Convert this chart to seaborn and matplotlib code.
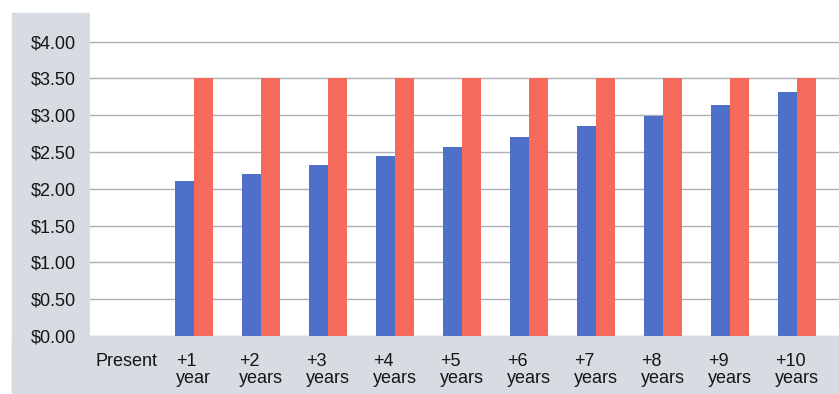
import matplotlib
matplotlib.use("Agg")
import matplotlib.pyplot as plt
import seaborn as sns
import pandas as pd
from matplotlib.patches import Rectangle

categories = ["Present", "+1\nyear", "+2\nyears", "+3\nyears", "+4\nyears", "+5\nyears",
              "+6\nyears", "+7\nyears", "+8\nyears", "+9\nyears", "+10\nyears"]
series_names = ["Series A", "Series B"]
blue_values = [0.0, 2.10, 2.20, 2.32, 2.44, 2.57, 2.71, 2.85, 2.99, 3.14, 3.31]
red_values = [0.0, 3.50, 3.50, 3.50, 3.50, 3.50, 3.50, 3.50, 3.50, 3.50, 3.50]
y_ticks = [0.0, 0.5, 1.0, 1.5, 2.0, 2.5, 3.0, 3.5, 4.0]
y_tick_labels = ["$0.00", "$0.50", "$1.00", "$1.50", "$2.00", "$2.50", "$3.00", "$3.50", "$4.00"]

df = pd.DataFrame({
    "cat": categories * 2,
    "series": [series_names[0]] * len(categories) + [series_names[1]] * len(categories),
    "value": blue_values + red_values,
})

sns.set_theme(style="white")
plt.rcParams["font.family"] = ["Liberation Sans", "DejaVu Sans"]

W, H = 839, 394
fig = plt.figure(figsize=(W / 100, H / 100), dpi=100, facecolor="white")

gray = "#d6dce2"
fig.patches.append(Rectangle((12 / W, 0), (90 - 12) / W, 1 - 13 / H,
                             transform=fig.transFigure, color=gray, zorder=-10))
fig.patches.append(Rectangle((12 / W, 0), 1 - 12 / W, 1 - 336 / H,
                             transform=fig.transFigure, color=gray, zorder=-10))

ax = fig.add_axes([90 / W, 1 - 336 / H, 1 - 90 / W, (336 - 13) / H])
ax.set_facecolor("white")
ax.set_zorder(5)

sns.barplot(data=df, x="cat", y="value", hue="series", order=categories,
            palette=["#4e70c8", "#f56a5b"], width=0.56, gap=0.0,
            saturation=1, ax=ax, legend=False)
for p in ax.patches:
    p.set_linewidth(0)

ax.set_xlim(-0.55, 10.63)
ax.set_ylim(0, 4.39)
ax.set_yticks(y_ticks)
ax.set_yticklabels(y_tick_labels)
ax.yaxis.grid(True, color="#a9afb4", linewidth=1.0)
ax.set_axisbelow(True)
for s in ax.spines.values():
    s.set_visible(False)
ax.tick_params(axis="y", length=0, pad=10, labelsize=13, labelcolor="#151515")
ax.tick_params(axis="x", length=0, pad=12, labelsize=13, labelcolor="#151515")
for lab in ax.get_xticklabels():
    lab.set_multialignment("left")
    lab.set_linespacing(1.0)
ax.set_xlabel("")
ax.set_ylabel("")

fig.savefig("out.png", dpi=100, facecolor="white")
